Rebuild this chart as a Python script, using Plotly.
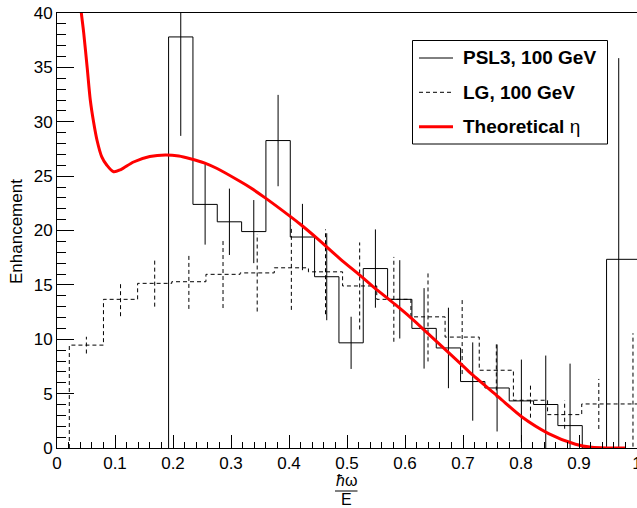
import plotly.graph_objects as go

# ---------------- data ----------------
# PSL3, 100 GeV histogram (solid)
psl3_edges = [0.1924, 0.2344, 0.2763, 0.3183, 0.3602, 0.4022, 0.4441, 0.4861,
              0.5280, 0.5700, 0.6119, 0.6539, 0.6958, 0.7378, 0.7797, 0.8217,
              0.8636, 0.9056, 0.9475, 1.0]
psl3_width = 0.04195
psl3_values = [37.8, 22.4, 20.8, 19.9, 28.27, 19.4, 15.75, 9.67, 16.5, 13.67,
               11.0, 9.2, 6.11, 5.52, 4.33, 4.0, 2.06, 0.0, 17.35]
psl3_errors = [9.1, 3.7, 3.05, 2.9, 4.2, 3.05, 4.0, 2.4, 3.6, 3.6,
               3.7, 3.7, 3.6, 4.0, 3.8, 4.5, 5.7, 0.0, 18.5]

# LG, 100 GeV histogram (dashed)
lg_edges = [0.0212, 0.0801, 0.1390, 0.1979, 0.2568, 0.3157, 0.3746, 0.4335,
            0.4924, 0.5513, 0.6102, 0.6691, 0.7280, 0.7869, 0.8458, 0.9047,
            0.9636, 1.0225]
lg_values = [9.46, 13.67, 15.14, 15.29, 15.97, 16.1, 16.57, 16.2, 14.9, 13.67,
             12.06, 10.2, 7.15, 4.39, 3.07, 4.05, 4.05]
lg_errors = [0.77, 1.55, 2.14, 2.5, 3.1, 3.55, 3.87, 3.9, 4.0, 3.9,
             4.1, 3.4, 2.5, 1.6, 1.3, 2.3, 6.5]

# Theoretical eta curve
theory_x = [0.035, 0.042, 0.046, 0.052, 0.0574, 0.063, 0.069, 0.077, 0.086, 0.0976,
            0.11, 0.132, 0.16, 0.187, 0.21, 0.23, 0.255, 0.276, 0.316, 0.333,
            0.359, 0.402, 0.419, 0.448, 0.488, 0.523, 0.546, 0.583, 0.603, 0.629,
            0.704, 0.7126, 0.761, 0.8017, 0.8476, 0.894, 0.922, 0.95, 0.98]
theory_y = [44.0, 40.0, 38.2, 35.0, 32.0, 30.0, 28.3, 26.8, 26.0, 25.4,
            25.6, 26.3, 26.8, 26.95, 26.85, 26.6, 26.2, 25.7, 24.5, 23.95,
            23.0, 21.3, 20.6, 19.3, 17.4, 15.85, 14.8, 13.2, 12.3, 11.05,
            7.35, 6.9, 4.7, 2.85, 1.33, 0.34, 0.06, 0.0, 0.0]

x_tickvals = [0, 0.1, 0.2, 0.3, 0.4, 0.5, 0.6, 0.7, 0.8, 0.9, 1.0]
x_ticktext = ["0", "0.1", "0.2", "0.3", "0.4", "0.5", "0.6", "0.7", "0.8", "0.9", "1"]
y_tickvals = [0, 5, 10, 15, 20, 25, 30, 35, 40]
y_ticktext = ["0", "5", "10", "15", "20", "25", "30", "35", "40"]

legend_labels = ["<b>PSL3, 100 GeV</b>", "<b>LG, 100 GeV</b>", "<b>Theoretical</b> η"]

FONT = "Liberation Sans, Arial, Helvetica, sans-serif"


def step_xy(edges, values):
    xs = [edges[0]] + list(edges)
    ys = [0.0] + list(values) + [values[-1]]
    return xs, ys


def err_xy(centers, values, errors):
    xs, ys = [], []
    for c, v, e in zip(centers, values, errors):
        if e > 0:
            xs += [c, c, None]
            ys += [v - e, v + e, None]
    return xs, ys


fig = go.Figure()

# LG dashed histogram
lx, ly = step_xy(lg_edges, lg_values)
fig.add_trace(go.Scatter(x=lx, y=ly, mode="lines", line_shape="hv",
                         line=dict(color="black", width=1, dash="4px,3px"),
                         showlegend=False, hoverinfo="skip"))
lg_centers = [(lg_edges[i] + lg_edges[i + 1]) / 2 for i in range(len(lg_values))]
ex, ey = err_xy(lg_centers, lg_values, lg_errors)
fig.add_trace(go.Scatter(x=ex, y=ey, mode="lines",
                         line=dict(color="black", width=1, dash="4px,3px"),
                         showlegend=False, hoverinfo="skip"))

# PSL3 solid histogram
px_, py_ = step_xy(psl3_edges, psl3_values)
fig.add_trace(go.Scatter(x=px_, y=py_, mode="lines", line_shape="hv",
                         line=dict(color="black", width=1),
                         showlegend=False, hoverinfo="skip"))
psl3_centers = [e + psl3_width / 2 for e in psl3_edges[:-1]]
ex, ey = err_xy(psl3_centers, psl3_values, psl3_errors)
fig.add_trace(go.Scatter(x=ex, y=ey, mode="lines",
                         line=dict(color="black", width=1),
                         showlegend=False, hoverinfo="skip"))

# theoretical curve
fig.add_trace(go.Scatter(x=theory_x, y=theory_y, mode="lines",
                         line=dict(color="#ff0000", width=3, shape="spline", smoothing=0.8),
                         showlegend=False, hoverinfo="skip"))

fig.update_layout(
    width=637, height=508,
    margin=dict(l=57, r=0, t=13, b=60, autoexpand=False),
    paper_bgcolor="white", plot_bgcolor="white",
    font=dict(family=FONT, size=17, color="black"),
    showlegend=False,
)
fig.update_xaxes(
    range=[0, 1], showgrid=False, zeroline=False, automargin=False,
    showline=True, linecolor="black", linewidth=1, mirror=True,
    ticks="inside", ticklen=13, tickwidth=1, tickcolor="black",
    tickvals=x_tickvals, ticktext=x_ticktext, ticklabeloverflow="allow",
    tickfont=dict(family=FONT, size=17),
    minor=dict(ticks="inside", ticklen=6, dtick=0.02, tick0=0, tickcolor="black", tickwidth=1, showgrid=False),
)
fig.update_yaxes(
    range=[0, 40], showgrid=False, zeroline=False, automargin=False,
    showline=True, linecolor="black", linewidth=1, mirror=True,
    ticks="inside", ticklen=17, tickwidth=1, tickcolor="black",
    tickvals=y_tickvals, ticktext=y_ticktext,
    tickfont=dict(family=FONT, size=17),
    minor=dict(ticks="inside", ticklen=9, dtick=1, tick0=0, tickcolor="black", tickwidth=1, showgrid=False),
)

# ---- manual legend (ROOT TLegend style) ----
W, H, L, B = 580.0, 435.0, 57.0, 448.0
def pxx(p):
    return (p - L) / W
def pxy(p):
    return (B - p) / H

fig.add_shape(type="rect", xref="paper", yref="paper",
              x0=pxx(412.5), x1=pxx(607.5), y0=pxy(144), y1=pxy(40.5),
              line=dict(color="black", width=1), fillcolor="white", layer="above")
row_y = [58, 92.3, 126.7]
styles = [dict(color="black", width=1), dict(color="black", width=1, dash="4px,3px"),
          dict(color="#ff0000", width=3)]
for lab, ry, st in zip(legend_labels, row_y, styles):
    fig.add_shape(type="line", xref="paper", yref="paper",
                  x0=pxx(419), x1=pxx(453), y0=pxy(ry), y1=pxy(ry), line=st, layer="above")
    fig.add_annotation(xref="paper", yref="paper", x=pxx(461), y=pxy(ry),
                       text=lab, showarrow=False, xanchor="left", yanchor="middle",
                       font=dict(family=FONT, size=19, color="black"))

# ---- axis titles ----
fig.add_annotation(xref="paper", yref="paper", x=pxx(16), y=pxy(232),
                   text="Enhancement", textangle=-90, showarrow=False,
                   xanchor="center", yanchor="middle",
                   font=dict(family=FONT, size=17, color="black"))
fig.add_annotation(xref="paper", yref="paper", x=pxx(346), y=pxy(481),
                   text="<i>ħ</i>ω", showarrow=False, xanchor="center", yanchor="middle",
                   font=dict(family=FONT, size=16, color="black"))
fig.add_shape(type="line", xref="paper", yref="paper",
              x0=pxx(335), x1=pxx(357.5), y0=pxy(491), y1=pxy(491),
              line=dict(color="black", width=1))
fig.add_annotation(xref="paper", yref="paper", x=pxx(346.5), y=pxy(499.5),
                   text="E", showarrow=False, xanchor="center", yanchor="middle",
                   font=dict(family=FONT, size=16, color="black"))

fig.write_html("out.html",
               config={"displayModeBar": False},
               post_script="document.body.style.margin='0px';document.body.style.overflow='hidden';")
